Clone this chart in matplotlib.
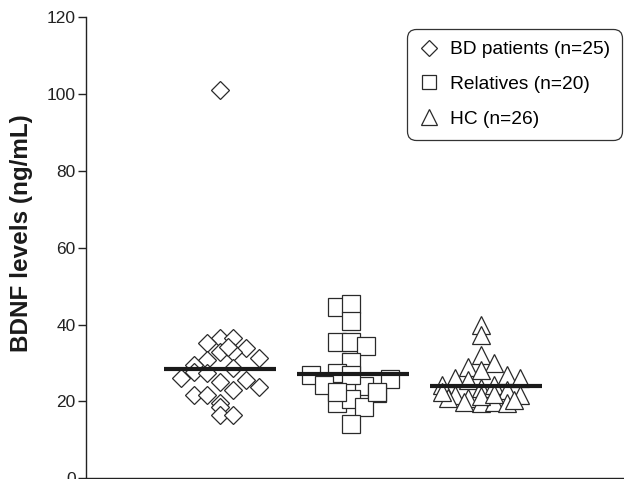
import numpy as np
import matplotlib.pyplot as plt
from matplotlib.lines import Line2D

plt.rcParams['font.family'] = ['Liberation Sans', 'DejaVu Sans']

# BDNF levels (ng/mL); *_step = jitter column of each point within its group
bd_step = [0, 0, 1, -1, 2, 0, 1, 0.6, 3, -1, -2, -2, -1, 1, -3, 0, 2, 1, 3, -2, -1, 0, 0, 0, 1]
bd_vals = [101.0, 36.4, 36.4, 35.1, 33.8, 33.0, 33.0, 34.3, 31.2, 30.8, 29.5, 27.7, 27.3, 28.6,
           26.0, 25.1, 25.6, 23.0, 23.8, 21.7, 21.7, 19.5, 18.6, 16.5, 16.5]

rel_step = [-1, 0, 0, -1, 0, 1.2, 0, -3, -1, -2, 3, 1, 2, -1, 0, 1, 0, 0, -1, 2]
rel_vals = [44.7, 45.5, 40.9, 35.6, 35.6, 34.5, 30.3, 26.9, 27.3, 24.3, 25.8, 24.0, 22.1,
            19.5, 20.6, 18.5, 14.2, 27.0, 22.5, 22.5]

hc_step = [0, 0, 0, 1, -1, 0, 2, 3, -2, -3, -1, 0, 1, 2, -2, -1, 0, 1, 3, 2, -2.5, -1.3, 2.5, -3, 0, 1]
hc_vals = [39.9, 37.3, 32.1, 30.1, 29.0, 28.2, 26.9, 26.0, 26.0, 24.3, 25.6, 23.5, 24.3, 23.0,
           21.7, 20.9, 19.6, 19.9, 21.7, 19.6, 20.9, 19.9, 20.5, 22.5, 21.5, 22.0]

group_means = [28.4, 27.1, 24.0]
labels = ['BD patients (n=25)', 'Relatives (n=20)', 'HC (n=26)']

fig = plt.figure(figsize=(6.24, 4.79), dpi=100)
ax = fig.add_axes([86 / 624, 0.7 / 479, 538 / 624, 461 / 479])

ec = '#2a2a2a'
step = 0.1
groups = [(bd_step, bd_vals, 'D', 8.7), (rel_step, rel_vals, 's', 13), (hc_step, hc_vals, '^', 12.5)]
for i, (st, vals, mk, ms) in enumerate(groups):
    x = 1 + i + np.array(st) * step
    for xi, yi in zip(x, vals):
        ax.plot(xi, yi, linestyle='none', marker=mk, markersize=ms, markerfacecolor='white',
                markeredgecolor=ec, markeredgewidth=0.9, zorder=2)
    c = 1 + i + 0.02 * i
    ax.plot([c - 0.43, c + 0.43], [group_means[i]] * 2,
            color='#1a1a1a', linewidth=3, solid_capstyle='butt', zorder=3)

ax.set_xlim(1 - 134 / 130.5, 3 + 143 / 130.5)
ax.set_ylim(0, 120)
ax.set_yticks(np.arange(0, 121, 20))
ax.set_xticks([])
ax.tick_params(axis='y', length=6, width=1, pad=1.5, labelsize=12.5, colors='#222222')
for s in ['top', 'right']:
    ax.spines[s].set_visible(False)
for s in ['left', 'bottom']:
    ax.spines[s].set_linewidth(1)
    ax.spines[s].set_color('#222222')

fig.text(22 / 624, 1 - 233 / 479, 'BDNF levels (ng/mL)', rotation=90, fontsize=17.5,
         fontweight='bold', ha='center', va='center', color='#1a1a1a')

handles = [
    Line2D([], [], linestyle='none', marker='D', markersize=8.5, markerfacecolor='white', markeredgecolor=ec, markeredgewidth=0.9),
    Line2D([], [], linestyle='none', marker='s', markersize=10.5, markerfacecolor='white', markeredgecolor=ec, markeredgewidth=0.9),
    Line2D([], [], linestyle='none', marker='^', markersize=11, markerfacecolor='white', markeredgecolor=ec, markeredgewidth=0.9),
]
leg = ax.legend(handles, labels, loc='upper right', bbox_to_anchor=(622 / 624, 1 - 29 / 479),
                bbox_transform=fig.transFigure, fontsize=13.8, frameon=True, fancybox=True,
                handlelength=1.0, handletextpad=0.6, labelspacing=0.9, borderpad=0.62,
                borderaxespad=0)
frame = leg.get_frame()
frame.set_edgecolor('#333333')
frame.set_linewidth(0.9)
frame.set_alpha(1)
frame.set_boxstyle('round,pad=0,rounding_size=0.45')

fig.savefig('out.png', dpi=100)
